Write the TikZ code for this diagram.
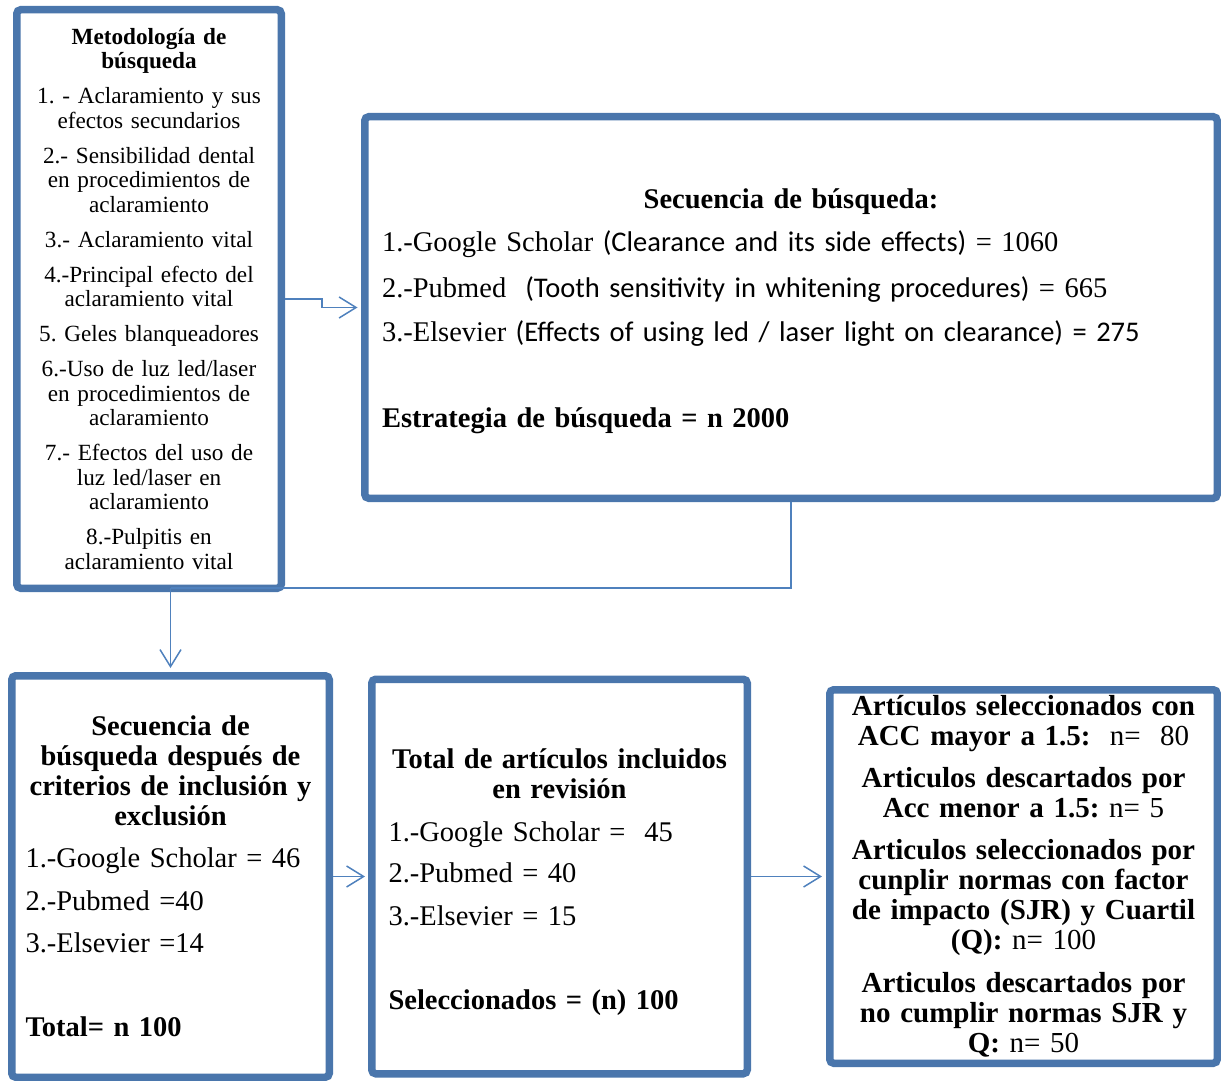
\documentclass[tikz,border=0pt]{standalone}
\usepackage{fontspec}
\setmainfont{Liberation Serif}
\newfontfamily\calibri{Carlito}
\usepackage{xcolor}
\usepackage{tikz}
\usetikzlibrary{arrows.meta,positioning,shadows}
\definecolor{boxblue}{HTML}{4A76AC}
\definecolor{linkblue}{HTML}{4F81BD}
\frenchspacing

\begin{document}
\begin{tikzpicture}[
  x=0.5pt,y=-0.5pt,
  box/.style={draw=boxblue,line width=3.75pt,rounded corners=2pt,fill=white,inner sep=2pt,
    drop shadow={shadow xshift=1pt,shadow yshift=-1pt,opacity=0.25,fill=black},
    font=\fontsize{14.25}{15}\selectfont},
  arrow/.style={-{Straight Barb[length=8.5pt,width=10.5pt]},draw=linkblue,line width=0.75pt},
  link/.style={draw=linkblue,line width=0.75pt}
]
\useasboundingbox (0,0) rectangle (1221,1081);
\node[box,align=center,text width=125pt,minimum width=132.25pt,minimum height=289.25pt,font=\fontsize{11.6}{12.25}\selectfont] (metodo) at (149,299) {\textbf{Metodología de\\búsqueda}\\[5.25pt]
1. - Aclaramiento y sus\\efectos secundarios\\[5.25pt]
2.- Sensibilidad dental\\en procedimientos de\\aclaramiento\\[5.25pt]
3.- Aclaramiento vital\\[5.25pt]
4.-Principal efecto del\\aclaramiento vital\\[5.25pt]
5. Geles blanqueadores\\[5.25pt]
6.-Uso de luz led/laser\\en procedimientos de\\aclaramiento\\[5.25pt]
7.- Efectos del uso de\\luz led/laser en\\aclaramiento\\[5.25pt]
8.-Pulpitis en\\aclaramiento vital};
\node[box,align=left,text width=409pt,minimum width=426.25pt,minimum height=190.75pt] (secuencia) at (791,307.5) {\rule{0pt}{14pt}\makebox[\linewidth]{\textbf{Secuencia de búsqueda:}}\\[6.5pt]
1.-Google Scholar {\calibri(Clearance and its side effects)} = 1060\\[8pt]
2.-Pubmed\ \ {\calibri(Tooth sensitivity in whitening procedures)} = 665\\[7pt]
3.-Elsevier {\calibri(Effects of using led / laser light on clearance) = 275}\\[28pt]
\textbf{Estrategia de búsqueda = n 2000}};
\node[box,align=left,text width=145pt,minimum width=158.75pt,minimum height=200.75pt] (criterios) at (170.5,876.5) {{\centering\bfseries Secuencia de\\búsqueda después de\\criterios de inclusión~y\\exclusión\par}
\vspace{6pt}
1.-Google Scholar = 46\\[6.25pt]
2.-Pubmed =40\\[6.25pt]
3.-Elsevier =14\\[27pt]
\textbf{Total= n 100}};
\node[box,align=left,text width=171pt,minimum width=187.75pt,minimum height=197.25pt,right=17.5pt of criterios] (total) {{\centering\bfseries\rule{0pt}{15.5pt}Total de artículos incluidos\\en revisión\par}
\vspace{6.5pt}
1.-Google Scholar =\ \ 45\\[5.5pt]
2.-Pubmed = 40\\[6.5pt]
3.-Elsevier = 15\\[27pt]
\textbf{Seleccionados = (n) 100}};
\node[box,align=center,text width=185pt,minimum width=193.75pt,minimum height=186.75pt,right=37.5pt of total,font=\fontsize{14.5}{15}\selectfont] (seleccion) {\textbf{Artículos seleccionados con}\\
\textbf{ACC mayor a 1.5:}\ \ n=\ \ 80\\[6pt]
\textbf{Articulos descartados por}\\
\textbf{Acc menor a 1.5:} n= 5\\[6pt]
\textbf{Articulos seleccionados por}\\
\textbf{cunplir normas con factor}\\
\textbf{de impacto (SJR) y Cuartil}\\
\textbf{(Q):} n= 100\\[6.5pt]
\textbf{Articulos descartados por}\\
\textbf{no cumplir normas SJR y}\\
\textbf{Q:} n= 50};
\coordinate (knee) at (criterios.north |- metodo.south);
\draw[arrow,shorten >=1.75pt] (metodo.east) -- ++(18.5pt,0) |- (secuencia.west);
\draw[link] (secuencia.south) |- ([yshift=2pt]knee);
\draw[arrow,shorten >=2pt] ([yshift=2pt]knee) -- (criterios.north);
\draw[arrow,shorten >=1.5pt] (criterios.east) -- (criterios.east -| total.west);
\draw[arrow,shorten >=2pt] (total.east) -- (total.east -| seleccion.west);
\end{tikzpicture}
\end{document}
